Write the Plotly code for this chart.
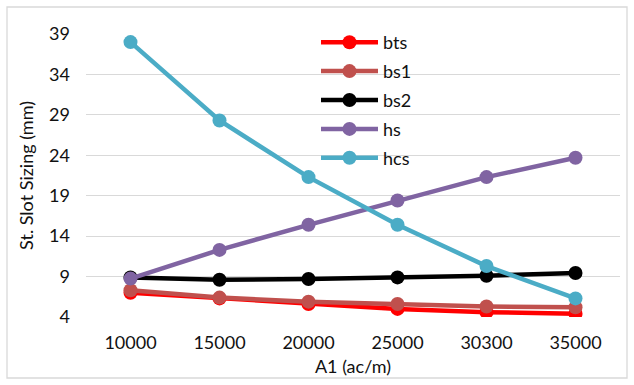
import plotly.graph_objects as go

# Category axis values (A1 in ac/m) and slot dimensions in mm
a1_labels = ["10000", "15000", "20000", "25000", "30300", "35000"]
bts = [7.0, 6.3, 5.6, 5.0, 4.6, 4.4]
bs1 = [7.3, 6.4, 5.9, 5.6, 5.3, 5.2]
bs2 = [8.9, 8.6, 8.7, 8.9, 9.1, 9.45]
hs = [8.75, 12.3, 15.4, 18.4, 21.3, 23.7]
hcs = [38.0, 28.3, 21.3, 15.4, 10.3, 6.3]
y_ticks = [4, 9, 14, 19, 24, 29, 34, 39]

series = [
    ("bts", bts, "#FF0000"),
    ("bs1", bs1, "#C0504D"),
    ("bs2", bs2, "#000000"),
    ("hs", hs, "#8064A2"),
    ("hcs", hcs, "#4BACC6"),
]

FONT = "Lato"
W, H = 634, 385
ML, MR, MT, MB = 86, 14, 34, 68
pw, ph = W - ML - MR, H - MT - MB

fig = go.Figure()
for name, vals, color in series:
    fig.add_trace(go.Scatter(
        x=a1_labels, y=vals, name=name, legendgroup=name,
        mode="lines+markers",
        line=dict(color=color, width=4.5),
        marker=dict(color=color, size=14),
    ))

def px_x(p):
    return (p - ML) / pw

def px_y(p):
    return (H - MB - p) / ph

fig.update_layout(
    width=W, height=H,
    margin=dict(l=ML, r=MR, t=MT, b=MB),
    paper_bgcolor="white", plot_bgcolor="white",
    font=dict(family=FONT, size=18, color="#111111"),
    xaxis=dict(
        type="category", range=[-0.5, 5.5],
        showgrid=False, zeroline=False, showline=False, ticks="",
        tickfont=dict(size=18), ticklabelstandoff=13,
        title=dict(text="A1 (ac/m)", font=dict(size=18), standoff=8),
    ),
    yaxis=dict(
        range=[4, 39], tickvals=y_ticks,
        showgrid=True, gridcolor="#D9D9D9", gridwidth=1.3,
        zeroline=False, showline=False, ticks="",
        tickfont=dict(size=18), ticklabelstandoff=15,
        title=dict(text="St. Slot Sizing (mm)", font=dict(size=18), standoff=10),
    ),
    legend=dict(
        x=px_x(316), y=px_y(24), xanchor="left", yanchor="top",
        bgcolor="rgba(0,0,0,0)", font=dict(size=18),
        traceorder="grouped", tracegroupgap=2.5, itemwidth=57,
    ),
    shapes=[dict(
        type="rect", xref="paper", yref="paper", layer="below",
        x0=px_x(7), x1=px_x(627), y0=px_y(378), y1=px_y(7),
        line=dict(color="#D9D9D9", width=1.3), fillcolor="rgba(0,0,0,0)",
    )],
)

fig.write_html("out.html")
